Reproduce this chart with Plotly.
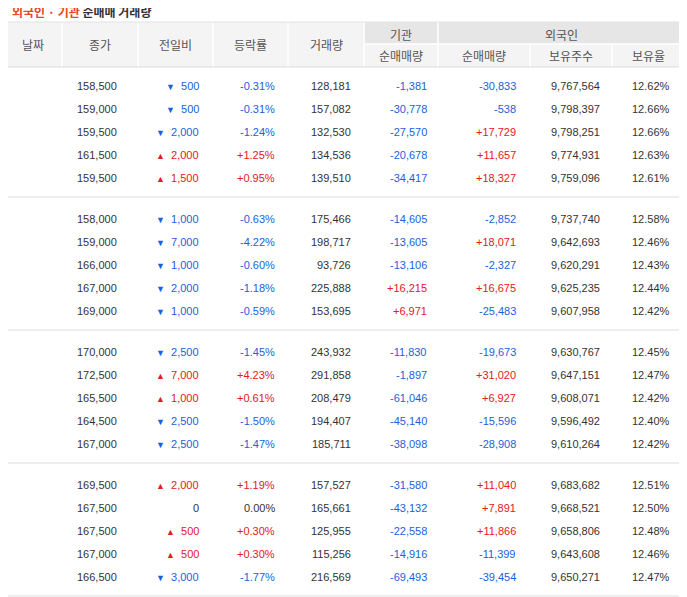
import plotly.graph_objects as go

dates = ["2020.08.28","2020.08.27","2020.08.26","2020.08.25","2020.08.24",
         "2020.08.21","2020.08.20","2020.08.19","2020.08.18","2020.08.14",
         "2020.08.13","2020.08.12","2020.08.11","2020.08.10","2020.08.07",
         "2020.08.06","2020.08.05","2020.08.04","2020.08.03","2020.07.31"]
close = [158500,159000,159500,161500,159500,158000,159000,166000,167000,169000,
         170000,172500,165500,164500,167000,169500,167500,167500,167000,166500]
change = [-500,-500,-2000,2000,1500,-1000,-7000,-1000,-2000,-1000,
          -2500,7000,1000,-2500,-2500,2000,0,500,500,-3000]
rate = [-0.31,-0.31,-1.24,1.25,0.95,-0.63,-4.22,-0.60,-1.18,-0.59,
        -1.45,4.23,0.61,-1.50,-1.47,1.19,0.00,0.30,0.30,-1.77]
volume = [128181,157082,132530,134536,139510,175466,198717,93726,225888,153695,
          243932,291858,208479,194407,185711,157527,165661,125955,115256,216569]
inst = [-1381,-30778,-27570,-20678,-34417,-14605,-13605,-13106,16215,6971,
        -11830,-1897,-61046,-45140,-38098,-31580,-43132,-22558,-14916,-69493]
foreign = [-30833,-538,17729,11657,18327,-2852,18071,-2327,16675,-25483,
           -19673,31020,6927,-15596,-28908,11040,7891,11866,-11399,-39454]
holdings = [9767564,9798397,9798251,9774931,9759096,9737740,9642693,9620291,9625235,9607958,
            9630767,9647151,9608071,9596492,9610264,9683682,9668521,9658806,9643608,9650271]
ratio = [12.62,12.66,12.66,12.63,12.61,12.58,12.46,12.43,12.44,12.42,
         12.45,12.47,12.42,12.40,12.42,12.51,12.50,12.48,12.46,12.47]
headers = ["날짜","종가","전일비","등락률","거래량"]
group_headers = ["기관","외국인"]
sub_headers = ["순매매량","순매매량","보유주수","보유율"]

BLUE = "#1d5fd8"; RED = "#e0201c"; DARK = "#333333"; GREY = "#8a8a8a"
NUM = "Tahoma, Liberation Sans, Arial"
KR = "Noto Sans CJK KR"

fig = go.Figure()
shapes = []; ann = []
def text(x, y, t, color=DARK, size=11, anchor="right", font=NUM):
    ann.append(dict(x=x, y=y, xref="x", yref="y", text=t, showarrow=False,
                    xanchor=anchor, yanchor="middle",
                    font=dict(family=font, size=size, color=color)))
def rect(x0, y0, x1, y1, fill):
    shapes.append(dict(type="rect", xref="x", yref="y", x0=x0, y0=y0, x1=x1, y1=y1,
                       fillcolor=fill, line=dict(width=0), layer="below"))
def line(x0, y0, x1, y1, color, w=1):
    shapes.append(dict(type="line", xref="x", yref="y", x0=x0, y0=y0, x1=x1, y1=y1,
                       line=dict(color=color, width=w)))

# title
ann.append(dict(x=10, y=11, xref="x", yref="y", showarrow=False, xanchor="left", yanchor="middle",
                text="<b><span style='color:#e8462a'>외국인 · 기관</span> 순매매 거래량</b>",
                font=dict(family=KR, size=12, color=DARK)))

L, R = 3, 684
cols = [L, 62, 138, 213, 288, 364, 438, 530, 612, R]
HT, HM, HB = 22, 44, 67
rect(L, HT, R, HB, "#f4f4f4")
rect(364, HT, R, HM, "#e6e6e6")
for c in cols[1:-1]:
    y0 = HT if c in (62, 138, 213, 288, 364, 438) else HM
    line(c, y0, c, HB, "#ffffff", 1.5)
line(364, HM, R, HM, "#ffffff", 1.5)
line(L, HT, R, HT, "#e2e2e2")
line(L, HB, R, HB, "#dddddd")
for i, h in enumerate(headers):
    text((cols[i] + cols[i+1]) / 2, (HT + HB) / 2, h, color="#555", size=12, anchor="center", font=KR)
text((364 + 438) / 2, (HT + HM) / 2 + 1, group_headers[0], color="#555", size=12, anchor="center", font=KR)
text((438 + R) / 2, (HT + HM) / 2 + 1, group_headers[1], color="#555", size=12, anchor="center", font=KR)
for i, h in enumerate(sub_headers):
    text((cols[5+i] + cols[6+i]) / 2, (HM + HB) / 2, h, color="#555", size=12, anchor="center", font=KR)

def col(v):
    return RED if v > 0 else (BLUE if v < 0 else DARK)
def signed(v):
    return f"+{v:,}" if v > 0 else f"{v:,}"

for i in range(len(dates)):
    g, k = divmod(i, 5)
    y = 86 + g * 133 + k * 23
    text(6, y, dates[i], color=GREY, size=9.5, anchor="left")
    text(119, y, f"{close[i]:,}")
    c = change[i]
    if c > 0:
        t = f"<span style='font-size:9px'>▲</span>  {c:,}"
    elif c < 0:
        t = f"<span style='font-size:9px'>▼</span>  {abs(c):,}"
    else:
        t = "0"
    text(201, y, t, color=col(c))
    r = rate[i]
    text(277, y, (f"+{r:.2f}%" if r > 0 else f"{r:.2f}%"), color=col(r))
    text(353, y, f"{volume[i]:,}")
    text(429, y, signed(inst[i]), color=col(inst[i]))
    text(518, y, signed(foreign[i]), color=col(foreign[i]))
    text(602, y, f"{holdings[i]:,}")
    text(672, y, f"{ratio[i]:.2f}%")

for g in range(4):
    line(L, 197 + g * 133, R, 197 + g * 133, "#dddddd")

# the page body has an 8px margin; shift the axes so positions line up with the reference
fig.update_layout(width=687, height=597, margin=dict(l=0, r=0, t=0, b=0),
                  paper_bgcolor="white", plot_bgcolor="white",
                  xaxis=dict(range=[8, 695], visible=False, fixedrange=True),
                  yaxis=dict(range=[605, 8], visible=False, fixedrange=True),
                  shapes=shapes, annotations=ann, showlegend=False)
fig.write_html("out.html")
